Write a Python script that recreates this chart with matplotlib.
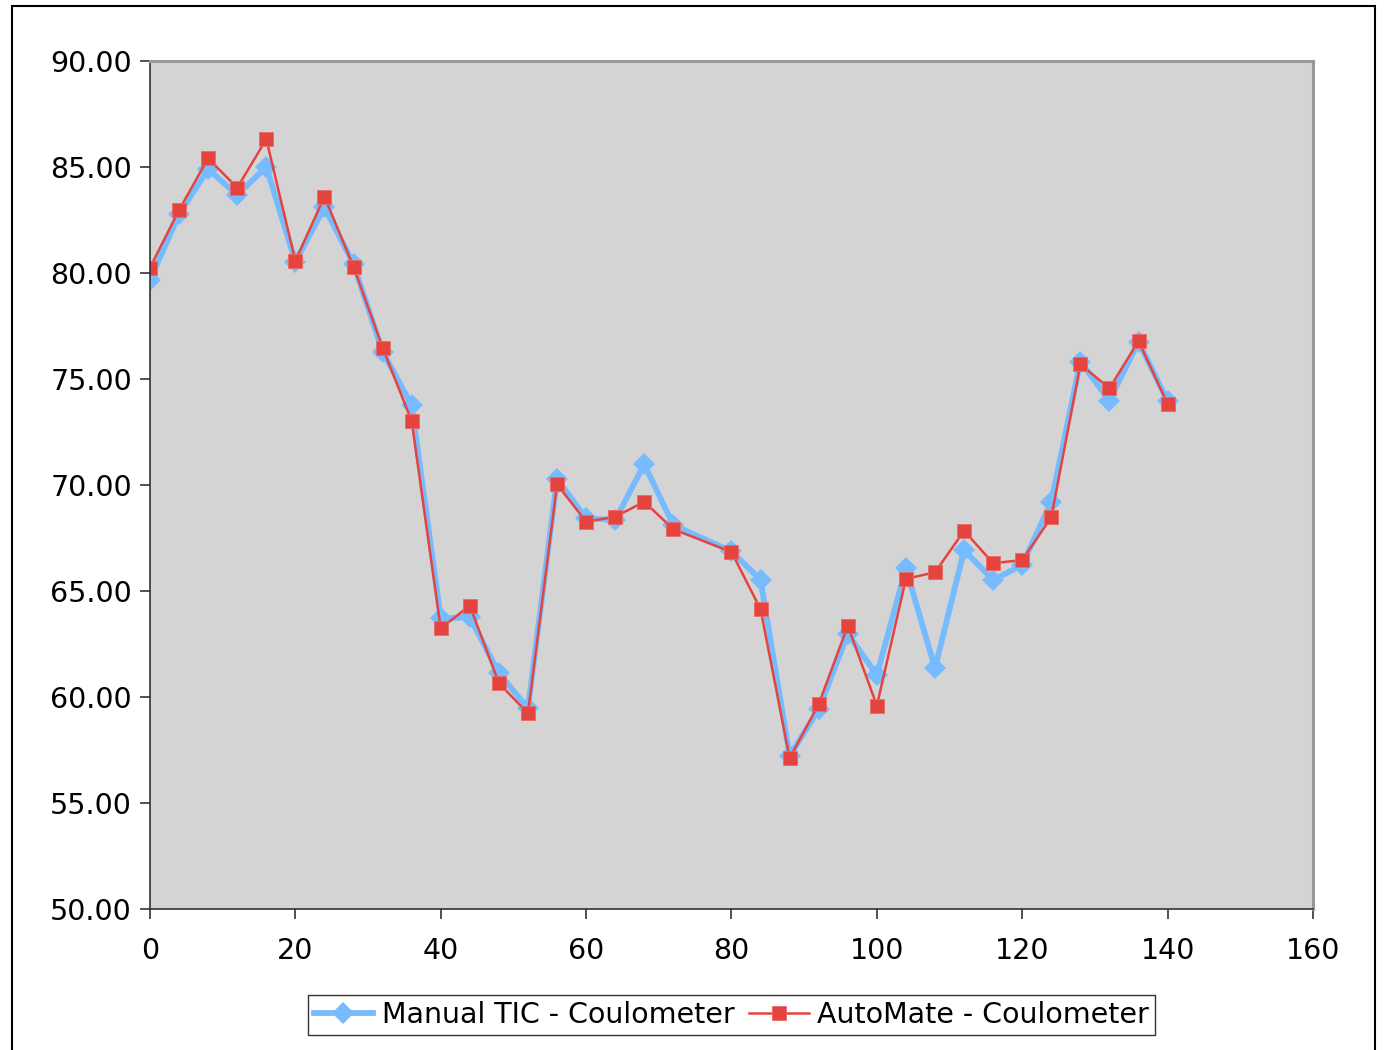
import numpy as np
import matplotlib.pyplot as plt
from matplotlib.patches import Rectangle

# Amostras (eixo x) e leituras dos dois métodos
x_manual = [0, 4, 8, 12, 16, 20, 24, 28, 32, 36, 40, 44, 48, 52, 56, 60, 64, 68, 72,
            80, 84, 88, 92, 96, 100, 104, 108, 112, 116, 120, 124, 128, 132, 136, 140]
manual_tic = [79.67, 82.78, 84.90, 83.68, 85.01, 80.53, 83.10, 80.42, 76.29, 73.76,
              63.71, 63.76, 61.12, 59.47, 70.28, 68.43, 68.35, 70.98, 68.11,
              66.87, 65.52, 57.22, 59.42, 62.97, 61.04, 66.07, 61.35, 66.93, 65.52,
              66.23, 69.21, 75.82, 73.98, 76.76, 73.96]

x_automate = x_manual
automate = [80.25, 82.97, 85.41, 84.02, 86.31, 80.57, 83.60, 80.30, 76.48, 73.02,
            63.24, 64.31, 60.65, 59.23, 70.03, 68.27, 68.50, 69.21, 67.91,
            66.84, 64.14, 57.11, 59.66, 63.36, 59.59, 65.57, 65.88, 67.84, 66.31,
            66.46, 68.48, 75.69, 74.56, 76.79, 73.82]

fig = plt.figure(figsize=(13.85, 10.5), dpi=100)
ax = fig.add_axes([0.1083, 0.1343, 0.8397, 0.8076])
ax.set_facecolor('#D4D4D4')

ax.plot(x_manual, manual_tic, color='#77BBFF', linewidth=4.2, marker='D',
        markersize=11, markeredgewidth=0, label='Manual TIC - Coulometer')
ax.plot(x_automate, automate, color='#E5443E', linewidth=1.8, marker='s',
        markersize=10, markeredgecolor='#EB6A63', markeredgewidth=0.6,
        label='AutoMate - Coulometer')

ax.set_xlim(0, 160)
ax.set_ylim(50, 90)
ax.set_xticks(np.arange(0, 161, 20))
ax.set_yticks(np.arange(50, 91, 5))
ax.set_yticklabels([f'{v:.2f}' for v in np.arange(50, 91, 5)])
ax.tick_params(axis='both', direction='out', length=7, width=1.2, color='#333333',
               labelsize=20.5, pad=6)
ax.tick_params(axis='x', pad=13)

for side in ['top', 'right']:
    ax.spines[side].set_color('#999999')
    ax.spines[side].set_linewidth(2.2)
for side in ['left', 'bottom']:
    ax.spines[side].set_color('#333333')
    ax.spines[side].set_linewidth(1.2)

leg = fig.legend(loc='center', bbox_to_anchor=(0.528, 0.0335), ncol=2,
                 fontsize=20.5, frameon=True, fancybox=False, handlelength=2.1,
                 handletextpad=0.3, columnspacing=0.5, borderpad=0.2)
leg.get_frame().set_edgecolor('black')
leg.get_frame().set_linewidth(1.0)

# Moldura externa da área do gráfico
fig.patches.append(Rectangle((12 / 1385, -0.05), (1375 - 12) / 1385, 1.05 - 6 / 1050,
                             transform=fig.transFigure, fill=False,
                             edgecolor='black', linewidth=1.5))

fig.savefig('out.png', dpi=100)
